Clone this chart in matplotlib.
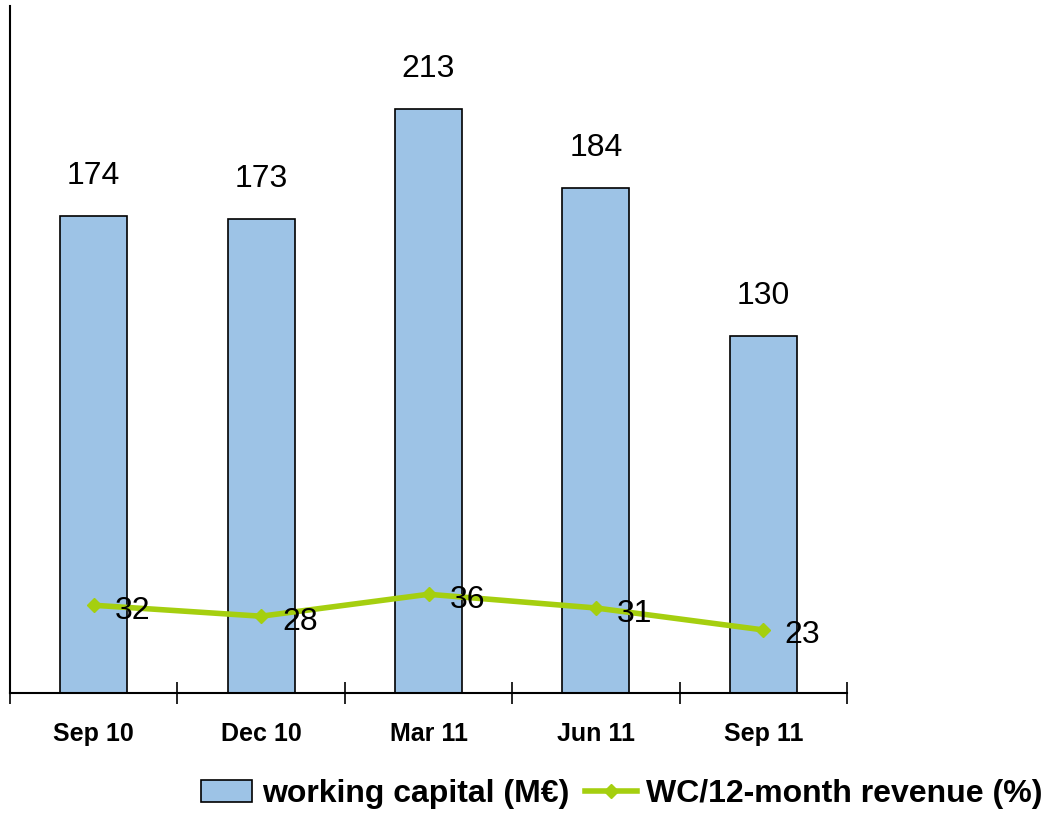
import numpy as np
import matplotlib.pyplot as plt

plt.rcParams['font.family'] = ['Liberation Sans', 'DejaVu Sans']

quarters = ['Sep 10', 'Dec 10', 'Mar 11', 'Jun 11', 'Sep 11']
working_capital = [174, 173, 213, 184, 130]
wc_ratio = [32, 28, 36, 31, 23]

bar_color = '#9DC3E6'
line_color = '#A5CF0F'

fig = plt.figure(figsize=(10.56, 8.15), dpi=100)
ax = fig.add_axes([10/1056, 122/815, 837/1056, 687/815])

x = np.arange(len(quarters))
bars = ax.bar(x, working_capital, width=0.4, color=bar_color, edgecolor='black',
              linewidth=1.2, label='working capital (M€)', zorder=2)
line, = ax.plot(x, wc_ratio, color=line_color, linewidth=4, marker='D', markersize=7,
                label='WC/12-month revenue (%)', zorder=3)

# value labels over bars and next to the line points
for xi, v in zip(x, working_capital):
    ax.annotate(str(v), (xi, v), xytext=(0, 18), textcoords='offset points',
                ha='center', va='bottom', fontsize=23)
for xi, v in zip(x, wc_ratio):
    ax.annotate(str(v), (xi, v), xytext=(15, -4), textcoords='offset points',
                ha='left', va='center', fontsize=23, zorder=4)

ax.set_xlim(-0.5, len(quarters) - 0.5)
ax.set_ylim(0, 250.5)
ax.set_yticks([])
ax.spines['top'].set_visible(False)
ax.spines['right'].set_visible(False)
ax.spines['left'].set_linewidth(1.5)
ax.spines['bottom'].set_linewidth(1.5)

# category boundary ticks crossing the axis, labels centred under the bars
ax.set_xticks(np.arange(-0.5, len(quarters)), minor=False)
ax.set_xticklabels([])
ax.tick_params(axis='x', which='major', direction='inout', length=16, width=1.2)
ax.set_xticks(x, minor=True)
ax.set_xticklabels(quarters, minor=True, fontsize=18, fontweight='bold')
ax.tick_params(axis='x', which='minor', length=0, pad=21)

fig.legend(handles=[bars, line], loc='center', bbox_to_anchor=(622/1056, 1 - 794/815),
           ncol=2, frameon=False, prop={'weight': 'bold', 'size': 23},
           handlelength=1.6, handletextpad=0.3, columnspacing=0.5)

plt.savefig('out.png', dpi=100)
